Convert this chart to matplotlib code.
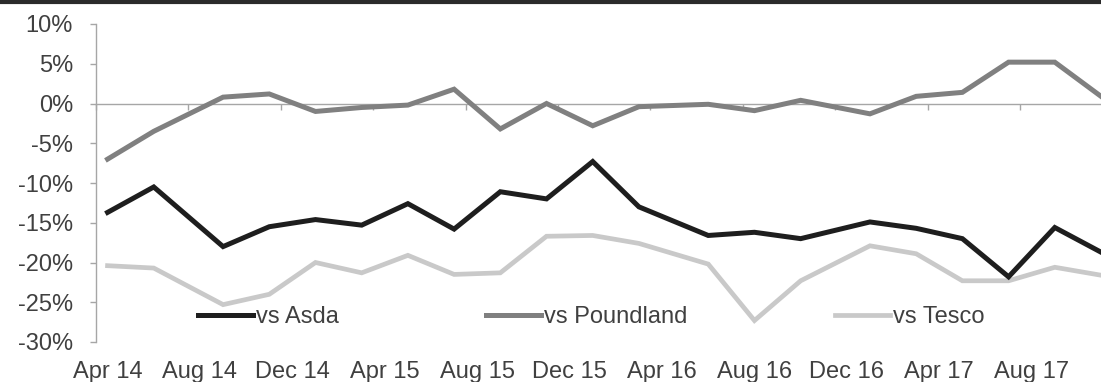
import matplotlib
matplotlib.use("Agg")
import matplotlib.pyplot as plt
import matplotlib.ticker as mticker
from matplotlib.lines import Line2D
import pandas as pd

# ---- data ----
dates = ["Apr 14", "Jun 14", "Sep 14", "Nov 14", "Jan 15", "Mar 15", "May 15",
         "Jul 15", "Sep 15", "Nov 15", "Jan 16", "Mar 16", "Jun 16", "Aug 16",
         "Oct 16", "Jan 17", "Mar 17", "May 17", "Jul 17", "Sep 17", "Nov 17"]
asda = [-13.7, -10.5, -18.0, -15.5, -14.6, -15.3, -12.6, -15.8, -11.1, -12.0, -7.3,
        -13.0, -16.6, -16.2, -17.0, -14.9, -15.7, -17.0, -21.8, -15.6, -18.7]
poundland = [-7.0, -3.5, 0.8, 1.2, -1.0, -0.5, -0.2, 1.8, -3.2, 0.0, -2.8,
             -0.4, -0.1, -0.9, 0.4, -1.3, 0.9, 1.4, 5.2, 5.2, 0.9]
tesco = [-20.4, -20.7, -25.3, -24.0, -20.0, -21.3, -19.1, -21.5, -21.3, -16.7, -16.6,
         -17.6, -20.2, -27.3, -22.3, -17.9, -18.9, -22.3, -22.3, -20.6, -21.6]
tick_labels = ["Apr 14", "Aug 14", "Dec 14", "Apr 15", "Aug 15", "Dec 15",
               "Apr 16", "Aug 16", "Dec 16", "Apr 17", "Aug 17"]
y_ticks = [-30, -25, -20, -15, -10, -5, 0, 5, 10]

base = pd.Timestamp("2014-04-01")
def month_pos(labels):
    d = pd.to_datetime(labels, format="%b %y")
    return [(t.year - base.year) * 12 + (t.month - base.month) for t in d]

x = month_pos(dates)
xt = month_pos(tick_labels)

plt.rcParams['font.family'] = ['Liberation Sans', 'DejaVu Sans']
TXT = '#404040'
AX = '#a6a6a6'
FS = 17

W, H = 1101, 382
fig = plt.figure(figsize=(W / 100, H / 100), dpi=100)
ax = fig.add_axes([96 / W, 1 - 342 / H, 1 - 96 / W, (342 - 24) / H])

l_t, = ax.plot(x, tesco, color='#c9c9c9', lw=3.4, zorder=3, solid_joinstyle='miter')
l_p, = ax.plot(x, poundland, color='#808080', lw=3.6, zorder=4, solid_joinstyle='miter')
l_a, = ax.plot(x, asda, color='#1e1e1e', lw=3.6, zorder=5, solid_joinstyle='miter')

ax.set_xlim(-0.5, 43)
ax.set_ylim(-30, 10)

for s in ['top', 'right']:
    ax.spines[s].set_visible(False)
ax.spines['left'].set_color(AX)
ax.spines['left'].set_linewidth(1.0)
ax.spines['bottom'].set_position(('data', 0))
ax.spines['bottom'].set_color(AX)
ax.spines['bottom'].set_linewidth(1.0)

ax.set_yticks(y_ticks)
ax.yaxis.set_major_formatter(mticker.FuncFormatter(lambda v, p: f"{v:.0f}%"))
ax.tick_params(axis='y', direction='out', length=4.5, width=1, color=AX,
               labelsize=FS, labelcolor=TXT, pad=12)

# tick marks on the 0% line, between the month labels
ax.set_xticks(xt)
ax.set_xticks([v - 0.5 for v in xt], minor=True)
ax.tick_params(axis='x', which='major', length=0, labelbottom=False)
ax.tick_params(axis='x', which='minor', direction='out', length=4, width=1, color=AX)

# month labels at the bottom of the axes
sec = ax.secondary_xaxis('bottom')
sec.set_xticks(xt)
sec.set_xticklabels(tick_labels)
sec.spines['bottom'].set_visible(False)
sec.tick_params(axis='x', length=0, labelsize=FS, labelcolor=TXT, pad=14)

leg = ax.legend([l_a, l_p, l_t], ["vs Asda", "vs Poundland", "vs Tesco"],
                ncol=3, frameon=False, fontsize=FS, labelcolor=TXT,
                handlelength=2.33, handletextpad=0.13, columnspacing=6.23,
                borderpad=0, borderaxespad=0, loc='center left',
                bbox_to_anchor=(198 / W, 1 - 317 / H), bbox_transform=fig.transFigure)

# thick rule at the very top
fig.add_artist(Line2D([0, 1], [1 - 2 / H, 1 - 2 / H], transform=fig.transFigure,
                      color='#2b2b2b', lw=3.0))

fig.savefig("out.png", dpi=100)
